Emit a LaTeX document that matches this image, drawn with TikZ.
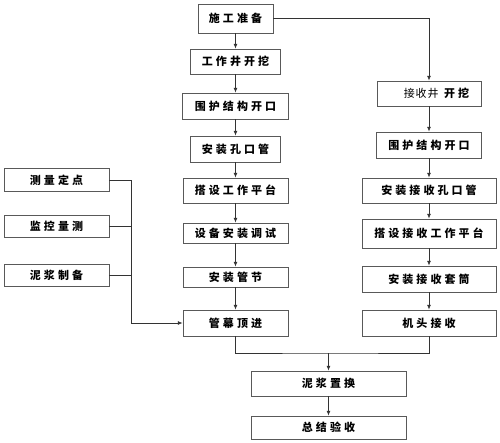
\documentclass[tikz,border=0pt]{standalone}
\usepackage{fontspec}
\usetikzlibrary{positioning, arrows.meta}
\newfontfamily\cjk[LetterSpace=28]{Noto Sans CJK SC}
\newfontfamily\cjkplain[LetterSpace=8]{Noto Sans CJK SC}

\begin{document}
\begin{tikzpicture}[
    x=0.04cm, y=-0.04cm,
    % GLOBAL CFG
    font=\cjk\bfseries\fontsize{12.5pt}{14pt}\selectfont,
    >={Latex[length=5.5pt,width=4.5pt]},
    % Styles
    step box/.style={% For every step of the work
        rectangle,
        draw=black!65,
        line width=0.9pt,
        fill=white,
        inner sep=1pt,
        minimum width=4.2cm,
        minimum height=1.0cm,
    },
    side box/.style={% For the side tasks on the left
        step box,
        minimum height=0.9cm,
    },
    wide box/.style={% For the receiving shaft steps
        step box,
        minimum width=5.36cm,
    },
    Arrow/.style={% Connectors
        draw=black!80,
        line width=0.8pt,
    },
    every text node part/.style={
        align=center
    },
    ]

    \useasboundingbox (0,0) rectangle (500,442);

    % Draw main column named as steps of the launch shaft
    \node [step box, minimum width=3.0cm, minimum height=1.16cm] (prep) at (235.5,18.5) {施工准备};
    \node [step box, minimum width=3.6cm] (dig) at (235.5,61.5) {工作井开挖};
    \node [step box, minimum width=4.24cm, minimum height=1.04cm] (wall) at (235.5,106) {围护结构开口};
    \node [step box, minimum width=3.6cm, minimum height=1.04cm] (port) at (235.5,149) {安装孔口管};
    \node [step box] (deck) at (235.5,190.5) {搭设工作平台};
    \node [step box, minimum height=0.8cm] (setup) at (235.5,233) {设备安装调试};
    \node [step box, minimum height=0.8cm] (pipe) at (235.5,277) {安装管节};
    \node [step box, minimum height=1.04cm] (jack) at (235.5,323) {管幕顶进};

    % Draw receiving column named r#
    \node [step box, minimum width=4.16cm] (rdig) at (429,93.5) {\hspace*{0.6cm}{\cjkplain\mdseries 接收井}\ 开挖};
    \node [step box, minimum height=1.04cm] (rwall) at (429,145) {围护结构开口};
    \node [wide box] (rport) at (429,190.5) {安装接收孔口管};
    \node [wide box, minimum height=1.16cm] (rdeck) at (429,233.5) {搭设接收工作平台};
    \node [wide box, minimum height=1.04cm] (rsleeve) at (429,279) {安装接收套筒};
    \node [wide box, minimum height=1.04cm] (rhead) at (429,323) {机头接收};

    % Draw side tasks
    \node [side box] (survey) at (56.5,180) {测量定点};
    \node [side box] (monitor) at (56.5,226.5) {监控量测};
    \node [side box] (mud) at (56.5,275.5) {泥浆制备};

    % Draw final steps
    \node [step box, minimum width=6.2cm] (swap) at (328.5,383.5) {泥浆置换};
    \node [step box, minimum width=6.2cm, minimum height=0.92cm] (done) at (328.5,427.5) {总结验收};

    % Joints
    \coordinate (bus) at (131,180);
    \coordinate (merge) at (328.5,353);

    % Connect all
    \draw [->, Arrow] (prep) -- (dig);
    \draw [->, Arrow] (dig) -- (wall);
    \draw [->, Arrow] (wall) -- (port);
    \draw [->, Arrow] (port) -- (deck);
    \draw [->, Arrow] (deck) -- (setup);
    \draw [->, Arrow] (setup) -- (pipe);
    \draw [->, Arrow] (pipe) -- (jack);

    \draw [->, Arrow] (prep) -| (rdig);
    \draw [->, Arrow] (rdig) -- (rwall);
    \draw [->, Arrow] (rwall) -- (rport);
    \draw [->, Arrow] (rport) -- (rdeck);
    \draw [->, Arrow] (rdeck) -- (rsleeve);
    \draw [->, Arrow] (rsleeve) -- (rhead);

    % Side tasks
    \draw [->, Arrow] (survey) -- (bus) |- (jack);
    \draw [Arrow] (monitor) -- (monitor -| bus);
    \draw [Arrow] (mud) -- (mud -| bus);

    % Outputs
    \draw [Arrow] (jack) |- (merge) -| (rhead);
    \draw [->, Arrow] (merge) -- (swap);
    \draw [->, Arrow] (swap) -- (done);

\end{tikzpicture}
\end{document}
